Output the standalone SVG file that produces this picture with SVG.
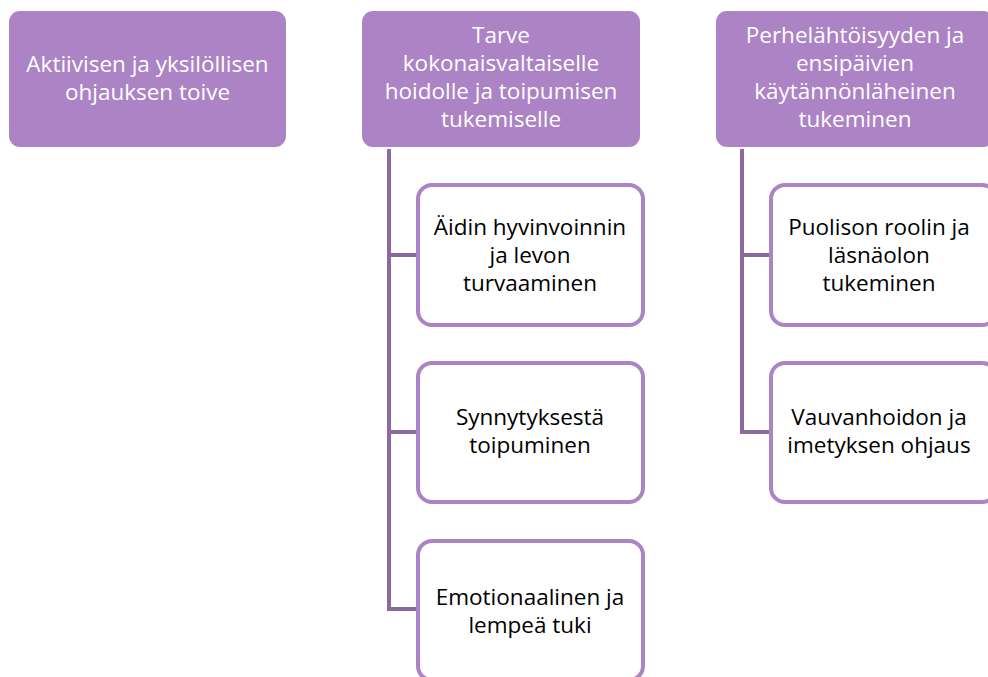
<svg xmlns="http://www.w3.org/2000/svg" width="988" height="677" viewBox="0 0 988 677">
<style>
.top{fill:#AC83C4;}
.child{fill:#FFFFFF;stroke:#AC83C4;stroke-width:4;}
.conn{fill:none;stroke:#8C6A9F;stroke-width:4;}
text{font-family:"Open Sans","Noto Sans",sans-serif;font-size:22.5px;text-anchor:middle;}
.w{fill:#FFFFFF;}
.b{fill:#000000;}
</style>
<rect width="988" height="677" fill="#FFFFFF"/>
<g id="connectors">
<path class="conn" d="M389,149 V609 H418 M389,255 H418 M389,432 H418"/>
<path class="conn" d="M742,149 V432 H771 M742,255 H771"/>
</g>
<g id="n1">
<rect class="top" x="9" y="11" width="277" height="136" rx="11"/>
<text class="w" x="147.5" y="72">Aktiivisen ja yksilöllisen</text>
<text class="w" x="147.5" y="100">ohjauksen toive</text>
</g>
<g id="n2">
<rect class="top" x="362" y="11" width="278" height="136" rx="11"/>
<text class="w" x="501" y="43">Tarve</text>
<text class="w" x="501" y="71">kokonaisvaltaiselle</text>
<text class="w" x="501" y="99">hoidolle ja toipumisen</text>
<text class="w" x="501" y="127">tukemiselle</text>
</g>
<g id="n3">
<rect class="top" x="716" y="11" width="278" height="136" rx="11"/>
<text class="w" x="855" y="43">Perhelähtöisyyden ja</text>
<text class="w" x="855" y="71">ensipäivien</text>
<text class="w" x="855" y="99">käytännönläheinen</text>
<text class="w" x="855" y="127">tukeminen</text>
</g>
<g id="c1">
<rect class="child" x="418" y="185" width="225" height="140" rx="14"/>
<text class="b" x="530" y="235">Äidin hyvinvoinnin</text>
<text class="b" x="530" y="263">ja levon</text>
<text class="b" x="530" y="291">turvaaminen</text>
</g>
<g id="c2">
<rect class="child" x="418" y="363" width="225" height="139" rx="14"/>
<text class="b" x="530" y="425">Synnytyksestä</text>
<text class="b" x="530" y="453">toipuminen</text>
</g>
<g id="c3">
<rect class="child" x="418" y="541" width="225" height="139" rx="14"/>
<text class="b" x="530" y="605">Emotionaalinen ja</text>
<text class="b" x="530" y="633">lempeä tuki</text>
</g>
<g id="c4">
<rect class="child" x="771" y="185" width="225" height="140" rx="14"/>
<text class="b" x="879" y="235">Puolison roolin ja</text>
<text class="b" x="879" y="263">läsnäolon</text>
<text class="b" x="879" y="291">tukeminen</text>
</g>
<g id="c5">
<rect class="child" x="771" y="363" width="225" height="139" rx="14"/>
<text class="b" x="879" y="425">Vauvanhoidon ja</text>
<text class="b" x="879" y="453">imetyksen ohjaus</text>
</g>
</svg>
